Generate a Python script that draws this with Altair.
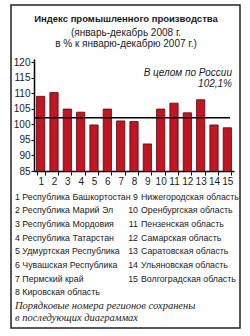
import altair as alt
import pandas as pd

regions = [str(i) for i in range(1, 16)]
values = [109.0, 110.2, 104.9, 103.9, 99.8, 104.9, 101.1, 100.9, 93.7, 104.9, 106.8, 103.7, 107.9, 99.8, 98.9]
russia = [102.1]
y_ticks = [85, 90, 95, 100, 105, 110, 115, 120]

title1 = "Индекс промышленного производства"
title2 = ["(январь-декабрь 2008 г.", "в % к январю-декабрю 2007 г.)"]
ref_label = ["В целом по России", "102,1%"]
names_left = [
    "1 Республика Башкортостан",
    "2 Республика Марий Эл",
    "3 Республика Мордовия",
    "4 Республика Татарстан",
    "5 Удмуртская Республика",
    "6 Чувашская Республика",
    "7 Пермский край",
    "8 Кировская область",
]
nums_right = ["9", "10", "11", "12", "13", "14", "15"]
names_right = [
    "Нижегородская область",
    "Оренбургская область",
    "Пензенская область",
    "Самарская область",
    "Саратовская область",
    "Ульяновская область",
    "Волгоградская область",
]
note = ["Порядковые номера регионов сохранены", "в последующих диаграммах"]

FONT = "Liberation Sans"
TXT = "#1a1a1a"

df = pd.DataFrame({"region": regions, "value": values})
ref_df = pd.DataFrame({"value": russia})
one = pd.DataFrame({"a": [0]})

y_scale = alt.Scale(domain=[85, 121], nice=False, zero=False)
y_axis = alt.Axis(
    values=y_ticks, labelFont=FONT, labelFontSize=10, labelColor=TXT,
    tickSize=3, tickColor="black", labelPadding=1, grid=False,
    domainColor="black", domainWidth=1.5, labelOverlap=False,
    labelFlush=False,
)

bars = alt.Chart(df).mark_bar(
    color="#BE1622", stroke="#5a0508", strokeWidth=0.8, clip=True
).encode(
    x=alt.X(
        "region:N",
        sort=regions,
        title=None,
        scale=alt.Scale(paddingInner=0.38, paddingOuter=0.19),
        axis=alt.Axis(
            labelAngle=0, labelFont=FONT, labelFontSize=10, labelColor=TXT,
            tickBand="extent", tickSize=4, tickColor="black", labelPadding=1,
            domainColor="black", domainWidth=1.5, labelOverlap=False,
        ),
    ),
    y=alt.Y("value:Q", title=None, scale=y_scale, axis=y_axis),
)

rule = alt.Chart(ref_df).mark_rule(color="black", strokeWidth=1.6).encode(
    y=alt.Y("value:Q", title=None, scale=y_scale, axis=y_axis),
    x=alt.value(0), x2=alt.value(196),
)

def text(lines, x, y, align="left", **kw):
    params = dict(align=align, baseline="alphabetic", font=FONT, fontSize=10, color=TXT)
    params.update(kw)
    return alt.Chart(one).mark_text(**params).encode(
        x=alt.value(x), y=alt.value(y), text=alt.value(lines)
    )

t1 = text(title1, 92, -37, align="center", fontWeight="bold", fontSize=9.5)
t2 = text(title2, 92, -23, align="center", lineHeight=10.5)
tref = text(ref_label, 198, 17, align="right", fontStyle="italic", lineHeight=11)
leg_l = text(names_left, -19, 140.5, lineHeight=13.7, fontSize=8.8)
leg_n = text(nums_right, 104, 140.5, align="right", lineHeight=13.7, fontSize=8.8)
leg_r = text(names_right, 107, 140.5, lineHeight=13.7, fontSize=8.8)
tnote = text(note, -19, 249.5, font="Liberation Serif", fontStyle="italic", lineHeight=12, fontSize=10.5)

frame = alt.Chart(one).mark_rect(fill=None, stroke="#222", strokeWidth=1.5).encode(
    x=alt.value(-23), x2=alt.value(206), y=alt.value(-54), y2=alt.value(269)
)

chart = alt.layer(
    bars, rule, t1, t2, tref, leg_l, leg_n, leg_r, tnote, frame
).properties(
    width=200,
    height=112,
    autosize=alt.AutoSizeParams(type="none"),
    padding={"left": 34, "top": 59, "right": 16, "bottom": 165},
    background="white",
).configure_view(stroke=None)

chart.save("out.html", embed_options={"renderer": "svg", "actions": False})
